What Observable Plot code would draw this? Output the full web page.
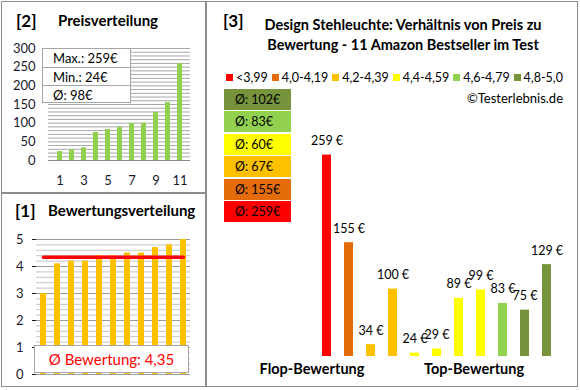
<!DOCTYPE html>
<html><head><meta charset="utf-8">
<script src="https://cdn.jsdelivr.net/npm/d3@7"></script>
<script src="https://cdn.jsdelivr.net/npm/@observablehq/plot@0.6"></script>
<style>
body{margin:0;background:#fff;}
#wrap{position:relative;width:580px;height:390px;overflow:hidden;background:#fff;font-family:Lato,"Open Sans",sans-serif;color:#000;}
.abs{position:absolute;white-space:nowrap;}
.plot{position:absolute;}
</style></head><body><div id="wrap"></div>
<script>
// ---- data ----
const productIds = [1,2,3,4,5,6,7,8,9,10,11];
const ratings = [3.0,4.1,4.2,4.2,4.4,4.4,4.5,4.5,4.7,4.8,5.0];
const prices = [259,155,34,100,24,29,89,99,83,75,129];
const ratingThresholds = [4.0,4.2,4.4,4.6,4.8];
const groupLabels = ["<3,99","4,0-4,19","4,2-4,39","4,4-4,59","4,6-4,79","4,8-5,0"];
const groupColors = ["#FF0000","#E46C0A","#FFC000","#FFFF00","#92D050","#77933C"];
const priceTicks = [0,50,100,150,200,250,300];
const rankTicks = [1,3,5,7,9,11];
const ratingTicks = [0,1,2,3,4,5];
const priceAxisMin = 20, priceAxisMax = 300;
const titleLines = ["Design Stehleuchte: Verhältnis von Preis zu","Bewertung - 11 Amazon Bestseller im Test"];

const FONT = 'Lato,"Open Sans",sans-serif';
const wrap = document.getElementById("wrap");
function el(html, css){const d=document.createElement("div");d.className="abs";d.innerHTML=html;Object.assign(d.style,css);wrap.appendChild(d);return d;}
function place(svg, left, top){svg.classList.add("plot");svg.style.left=left+"px";svg.style.top=top+"px";wrap.appendChild(svg);}

const products = productIds.map((id,i)=>({id, rating: ratings[i], price: prices[i], group: d3.bisectRight(ratingThresholds, ratings[i])}));
const sortedPrices = d3.sort(prices).map((p,i)=>({rank:i+1, price:p}));
const sortedRatings = d3.sort(ratings).map((r,i)=>({rank:i+1, rating:r}));
const fmtEuro = v => Math.round(v) + "€";

// ---- panel [2] Preisverteilung ----
const pA = Plot.plot({
  width: 205, height: 192,
  marginLeft: 48, marginRight: 15, marginTop: 48, marginBottom: 32,
  style: {fontFamily: FONT, fontSize: "13px", color: "#1a1a2e", background: "transparent", overflow: "visible"},
  x: {type: "band", domain: productIds, paddingInner: 0.6, paddingOuter: 0.4, label: null, ticks: rankTicks, tickSize: 0, tickPadding: 15},
  y: {domain: [0, 300], label: null, ticks: priceTicks, tickSize: 0, tickPadding: 13},
  marks: [
    Plot.ruleY(d3.range(10, 301, 10), {stroke: "#a8a8a8", strokeWidth: 1}),
    Plot.barY(sortedPrices, {x: "rank", y: "price", fill: "#92D050"}),
    Plot.ruleY([0], {stroke: "#888"})
  ]
});
place(pA, 0, 0);
el("[2]", {left:"16px", top:"10px", fontSize:"17px", fontWeight:"bold"});
el("Preisverteilung", {left:"58px", top:"11px", fontSize:"15px", fontWeight:"bold"});
const statBox = el("", {left:"42px", top:"48px", width:"89px", height:"55px", background:"#fff", border:"1px solid #a6a6a6", boxSizing:"border-box", fontSize:"13px"});
[["Max.: ", d3.max(prices)],["Min.: ", d3.min(prices)],["Ø: ", d3.mean(prices)]].forEach((r,i)=>{
  const row=document.createElement("div");
  row.textContent = r[0] + fmtEuro(r[1]);
  Object.assign(row.style,{height:"18px",lineHeight:"18px",paddingLeft:"10px",borderTop: i? "1px solid #a6a6a6":"none",boxSizing:"border-box"});
  statBox.appendChild(row);
});

// ---- panel [1] Bewertungsverteilung ----
const avgRating = d3.mean(ratings);
const pB = Plot.plot({
  width: 205, height: 196,
  marginLeft: 36, marginRight: 15, marginTop: 47, marginBottom: 14,
  style: {fontFamily: FONT, fontSize: "13px", color: "#1a1a2e", background: "transparent", overflow: "visible"},
  x: {type: "band", domain: productIds, paddingInner: 0.6, paddingOuter: 0.2, axis: null},
  y: {domain: [0, 5], label: null, ticks: ratingTicks, tickFormat: "d", tickSize: 4, tickPadding: 9},
  marks: [
    Plot.ruleY(d3.range(0.2, 5.01, 0.2).filter(v=>Math.abs(v-Math.round(v))>0.01), {stroke: "#c4c4c4"}),
    Plot.ruleY(ratingTicks, {stroke: "#999"}),
    Plot.ruleX([0], {x: () => 0, stroke: "#999", frameAnchor: "left"}),
    Plot.barY(sortedRatings, {x: "rank", y: "rating", fill: "#FFC000"}),
    Plot.lineY([{rank: 1, v: avgRating}, {rank: 11, v: avgRating}], {x: "rank", y: "v", stroke: "#FF0000", strokeWidth: 3.5})
  ]
});
place(pB, 0, 192);
el("[1]", {left:"15px", top:"200px", fontSize:"17px", fontWeight:"bold"});
el("Bewertungsverteilung", {left:"48px", top:"201px", fontSize:"15px", fontWeight:"bold"});
el("Ø Bewertung: " + d3.format(".2f")(avgRating).replace(".", ","), {left:"34px", top:"345px", width:"155px", height:"28px", lineHeight:"26px", textAlign:"center", background:"#fff", border:"1px solid #a6a6a6", boxSizing:"border-box", color:"#FF0000", fontSize:"15px"});

// ---- panel [3] main ----
const pC = Plot.plot({
  width: 373, height: 388,
  marginLeft: 108, marginRight: 18, marginTop: 120, marginBottom: 32,
  style: {fontFamily: FONT, fontSize: "12.5px", color: "#000", background: "transparent", overflow: "visible"},
  x: {type: "band", domain: productIds, paddingInner: 0.6, paddingOuter: 0.3, axis: null},
  y: {domain: [priceAxisMin, priceAxisMax], axis: null},
  color: {type: "threshold", domain: ratingThresholds, range: groupColors},
  marks: [
    Plot.barY(products, {x: "id", y1: priceAxisMin, y2: "price", fill: "rating"}),
    Plot.text(products, {x: "id", y: "price", text: d => d.price + " €", dy: -14, fill: "#000"})
  ]
});
place(pC, 205, 0);
el("[3]", {left:"223px", top:"10px", fontSize:"17px", fontWeight:"bold"});
titleLines.forEach((t,i)=> el(t, {left:"403px", top:(16+i*20)+"px", transform:"translateX(-50%)", fontSize:"14.5px", fontWeight:"bold"}));

// legend
const legend = el("", {left:"226px", top:"70px", width:"337px", display:"flex", justifyContent:"space-between", alignItems:"center", fontSize:"12.5px"});
groupLabels.forEach((lab,i)=>{
  const it=document.createElement("span");
  it.style.display="flex"; it.style.alignItems="center";
  it.innerHTML = `<span style="display:inline-block;width:7px;height:7px;background:${groupColors[i]};margin-right:3px"></span>${lab}`;
  legend.appendChild(it);
});
el("©Testerlebnis.de", {right:(580-563)+"px", top:"90px", fontSize:"13px"});

// average boxes (top: best group, bottom: worst)
const groupIdx = d3.range(groupColors.length).reverse();
groupIdx.forEach((g,j)=>{
  const avg = d3.mean(products.filter(p=>p.group===g), p=>p.price);
  el("Ø: " + fmtEuro(avg), {left:"224px", top:(89 + j*22.4)+"px", width:"67px", height:"21px", lineHeight:"21px", background:groupColors[g], paddingLeft:"11px", boxSizing:"border-box", fontSize:"12.5px"});
});

el("Flop-Bewertung", {left:"312px", top:"360px", transform:"translateX(-50%)", fontSize:"14.5px", fontWeight:"bold"});
el("Top-Bewertung", {left:"474px", top:"360px", transform:"translateX(-50%)", fontSize:"14.5px", fontWeight:"bold"});

// panel borders
el("", {left:"1px", top:"1px", width:"577px", height:"386px", border:"1.5px solid #8c8c8c", boxSizing:"border-box"});
el("", {left:"205px", top:"1px", width:"1.5px", height:"386px", background:"#8c8c8c"});
el("", {left:"1px", top:"192px", width:"205px", height:"1.5px", background:"#8c8c8c"});
</script></body></html>
